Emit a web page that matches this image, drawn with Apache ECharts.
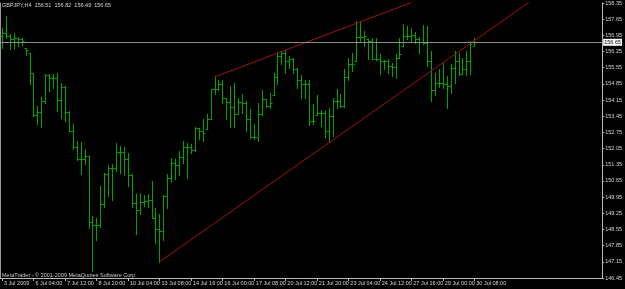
<!DOCTYPE html>
<html><head><meta charset="utf-8">
<script src="https://cdn.jsdelivr.net/npm/echarts@6/dist/echarts.min.js"></script>
<style>html,body{margin:0;padding:0;background:#000}#c{width:625px;height:289px}</style>
</head><body><div id="c"></div>
<script>
var symbolTitle = 'GBPJPY,H4  156.51  156.82  156.49  156.65';
var copyrightText = 'MetaTrader - \u00a9 2001-2009 MetaQuotes Software Corp.';
var timeLabels = ['3 Jul 2009','6 Jul 04:00','7 Jul 12:00','8 Jul 20:00','10 Jul 04:00','13 Jul 08:00','14 Jul 16:00','16 Jul 00:00','17 Jul 08:00','20 Jul 12:00','21 Jul 20:00','23 Jul 04:00','24 Jul 12:00','27 Jul 16:00','29 Jul 00:00','30 Jul 08:00'];
var opens = [156.92,157.05,156.92,156.79,156.84,156.79,156.41,156.19,155.32,153.51,
153.64,154.12,155.24,155.11,155.11,154.16,154.72,153.64,152.82,152.13,
151.61,151.61,151.74,148.89,148.76,148.76,149.67,150.96,151.22,151.22,
151.91,151.91,151.61,150.92,149.71,149.41,149.75,149.80,149.84,149.06,
148.59,148.50,150.01,150.79,151.44,151.35,151.70,152.13,152.13,152.00,
152.95,152.82,152.91,153.34,154.63,154.63,154.85,154.25,154.07,153.86,
153.55,154.07,154.03,153.34,152.56,152.56,153.55,154.20,153.90,154.38,
155.15,156.06,156.19,155.84,155.93,155.50,155.02,154.85,154.85,153.25,
153.51,153.60,153.60,152.82,153.47,154.12,154.12,153.90,155.15,155.71,
155.84,156.88,156.88,156.79,156.71,155.93,155.93,155.84,155.84,155.63,
155.58,155.97,156.49,156.92,156.92,156.97,156.79,156.67,156.62,155.84,
154.59,154.89,154.89,154.85,154.76,155.54,155.84,155.28,155.50,155.84,
156.51];
var highs = [157.27,157.79,157.01,157.05,156.88,156.84,156.41,156.19,155.32,153.90,
154.29,155.28,155.28,155.28,155.32,154.89,154.76,153.68,153.12,152.39,
152.35,152.04,151.74,149.15,149.06,150.45,151.01,151.35,151.40,152.30,
152.17,152.13,151.87,150.96,150.10,150.14,150.06,150.10,150.66,149.49,
149.23,150.06,150.96,151.65,151.61,151.96,152.39,152.30,152.26,153.00,
152.95,153.34,153.55,154.63,155.15,155.02,155.02,154.25,154.76,154.89,
154.25,154.42,154.12,153.77,153.12,154.03,154.59,154.20,154.46,155.32,
156.24,156.28,156.32,156.06,155.97,155.54,155.24,155.02,155.02,153.99,
154.38,153.73,153.68,153.81,154.25,154.63,154.42,155.50,155.97,156.19,
157.57,157.57,157.14,156.79,156.84,156.84,156.15,155.89,155.93,155.76,
156.15,156.84,157.44,157.36,157.27,157.10,156.88,157.40,157.36,156.28,
155.32,155.50,155.76,155.20,155.71,156.28,156.19,155.97,156.28,156.71,
156.82];
var lows = [156.41,156.84,156.36,156.41,156.49,156.54,156.10,154.85,153.47,153.12,
152.99,154.03,154.55,154.68,153.68,153.38,153.25,152.82,152.04,151.57,
150.96,151.40,148.63,146.77,148.11,148.67,149.54,150.01,149.84,151.09,
151.01,150.92,150.45,149.54,148.37,149.23,149.58,149.54,149.06,147.98,
147.15,148.11,149.49,150.62,150.75,150.92,151.44,150.79,151.87,151.96,
152.48,152.39,152.91,153.34,154.42,154.59,154.03,153.34,152.99,152.99,
153.55,153.60,152.82,152.52,152.48,152.39,153.51,153.86,153.81,154.38,
154.85,155.71,155.32,155.54,155.32,154.68,154.25,154.25,153.08,153.12,
153.51,153.04,152.56,152.35,152.60,153.81,153.86,153.86,155.02,155.41,
155.84,156.71,156.49,155.93,155.93,155.89,155.28,155.50,155.32,155.20,
155.11,155.97,156.49,156.79,156.71,156.62,156.19,156.58,155.63,154.12,
154.38,154.72,154.68,153.81,154.46,154.89,155.24,155.28,155.24,155.28,
156.49];
var closes = [157.05,156.92,156.79,156.84,156.79,156.71,156.32,155.32,153.51,153.64,
154.12,155.24,155.11,155.11,154.16,154.72,153.64,152.82,152.13,151.61,
151.61,151.74,148.89,148.76,148.76,149.67,150.96,151.22,151.22,151.91,
151.91,151.61,150.92,149.71,149.41,149.75,149.80,149.84,149.06,148.59,
148.50,150.01,150.79,151.44,151.35,151.70,152.13,152.13,152.00,152.95,
152.82,152.73,153.34,154.63,154.63,154.85,154.25,154.07,153.86,153.55,
154.07,154.03,153.34,152.56,152.56,153.55,154.20,153.90,154.03,155.15,
156.06,156.19,155.84,155.93,155.50,155.02,154.85,154.85,153.25,153.25,
153.60,153.60,152.82,153.47,154.12,154.12,153.90,155.15,155.71,155.71,
156.88,156.88,156.92,156.71,155.93,155.93,155.84,155.84,155.63,155.58,
155.97,156.15,156.92,156.92,156.97,156.79,156.67,156.62,155.84,154.59,
154.89,154.89,154.85,154.76,155.54,155.84,155.28,155.50,155.84,156.58,
156.65];
var lowerTrend = [[40,147.15],[140,159.11]];
var upperTrend = [[54,155.15],[140,160.69]];
var bidPrice = 156.65;
var totalSlots = 153;
var labelStep = 8;

var cats = [];
for (var i = 0; i < totalSlots; i++) {
  cats.push(i % labelStep === 0 && i / labelStep < timeLabels.length ? timeLabels[i / labelStep] : '');
}
var ohlc = [];
for (var j = 0; j < closes.length; j++) ohlc.push([j, opens[j], closes[j], lows[j], highs[j]]);

var BAR = '#00a400', AX = '#b8b8b8', TXT = '#d4d4d4', FONT = 'Liberation Sans';
var showIdx = function (idx) { return idx % labelStep === 0 && idx / labelStep < timeLabels.length; };

var chart = echarts.init(document.getElementById('c'), null, {renderer: 'canvas'});
chart.setOption({
  animation: false,
  backgroundColor: '#000',
  color: [BAR, '#a01414', '#a01414'],
  grid: {left: 0, right: 20, top: 2, bottom: 11, containLabel: false},
  xAxis: {
    type: 'category', data: cats, boundaryGap: true,
    axisLine: {lineStyle: {color: AX, width: 1}},
    axisTick: {show: true, length: 3, alignWithLabel: true, interval: function (idx) { return showIdx(idx); }, lineStyle: {color: AX}},
    axisLabel: {interval: function (idx) { return showIdx(idx); }, color: TXT, fontSize: 5.5, fontFamily: FONT, align: 'left', margin: 2, padding: [0,0,0,2]},
    splitLine: {show: false}
  },
  yAxis: [{
    type: 'value', position: 'right', min: 146.45, max: 158.35, interval: 0.7, scale: true,
    axisLine: {show: true, lineStyle: {color: AX, width: 1}},
    axisTick: {show: true, length: 2, lineStyle: {color: AX}},
    axisLabel: {color: TXT, fontSize: 5.5, fontFamily: FONT, margin: 3, formatter: function (v) { return v.toFixed(2); }},
    splitLine: {show: false}
  }, {
    type: 'value', position: 'left', min: 146.45, max: 158.35,
    axisLine: {show: true, lineStyle: {color: '#9a9a9a', width: 1}},
    axisTick: {show: false}, axisLabel: {show: false}, splitLine: {show: false}
  }],
  graphic: [
    {type: 'text', left: 2, top: 2, style: {text: symbolTitle, fill: TXT, font: '5.5px "Liberation Sans"'}},
    {type: 'text', left: 2, top: 272, style: {text: copyrightText, fill: '#c8c8c8', font: '5.5px "Liberation Sans"'}}
  ],
  series: [
    {
      type: 'custom', name: 'GBPJPY', data: ohlc, encode: {x: 0, y: [1, 2, 3, 4]},
      silent: true, itemStyle: {color: BAR, borderColor: BAR},
      emphasis: {disabled: true},
      renderItem: function (params, api) {
        var x = api.value(0);
        var o = api.coord([x, api.value(1)]);
        var c = api.coord([x, api.value(2)]);
        var l = api.coord([x, api.value(3)]);
        var h = api.coord([x, api.value(4)]);
        var cx = Math.round(h[0]) + 0.5;
        var oy = Math.round(o[1]) + 0.5, cy = Math.round(c[1]) + 0.5;
        var hy = Math.round(h[1]), ly = Math.round(l[1]) + 1;
        var d = 'M' + cx + ' ' + hy + 'L' + cx + ' ' + ly +
                'M' + (cx - 2) + ' ' + oy + 'L' + cx + ' ' + oy +
                'M' + cx + ' ' + cy + 'L' + (cx + 2) + ' ' + cy;
        return {type: 'path', shape: {pathData: d}, style: {stroke: BAR, fill: null, lineWidth: 1, opacity: 1}};
      }
    },
    {
      type: 'line', data: lowerTrend, symbol: 'none', clip: true, silent: true,
      lineStyle: {color: '#a01414', width: 1},
      markLine: {
        silent: true, symbol: ['none', 'none'], animation: false,
        lineStyle: {color: '#8c8c8c', type: 'solid', width: 1},
        label: {show: true, position: 'end', distance: 1, formatter: bidPrice.toFixed(2), color: '#000', backgroundColor: '#fff', fontSize: 5.5, fontFamily: FONT, padding: [1, 1, 0, 1]},
        data: [{yAxis: bidPrice}]
      }
    },
    {
      type: 'line', data: upperTrend, symbol: 'none', clip: true, silent: true,
      lineStyle: {color: '#a01414', width: 1}
    }
  ]
});
</script>
</body></html>
